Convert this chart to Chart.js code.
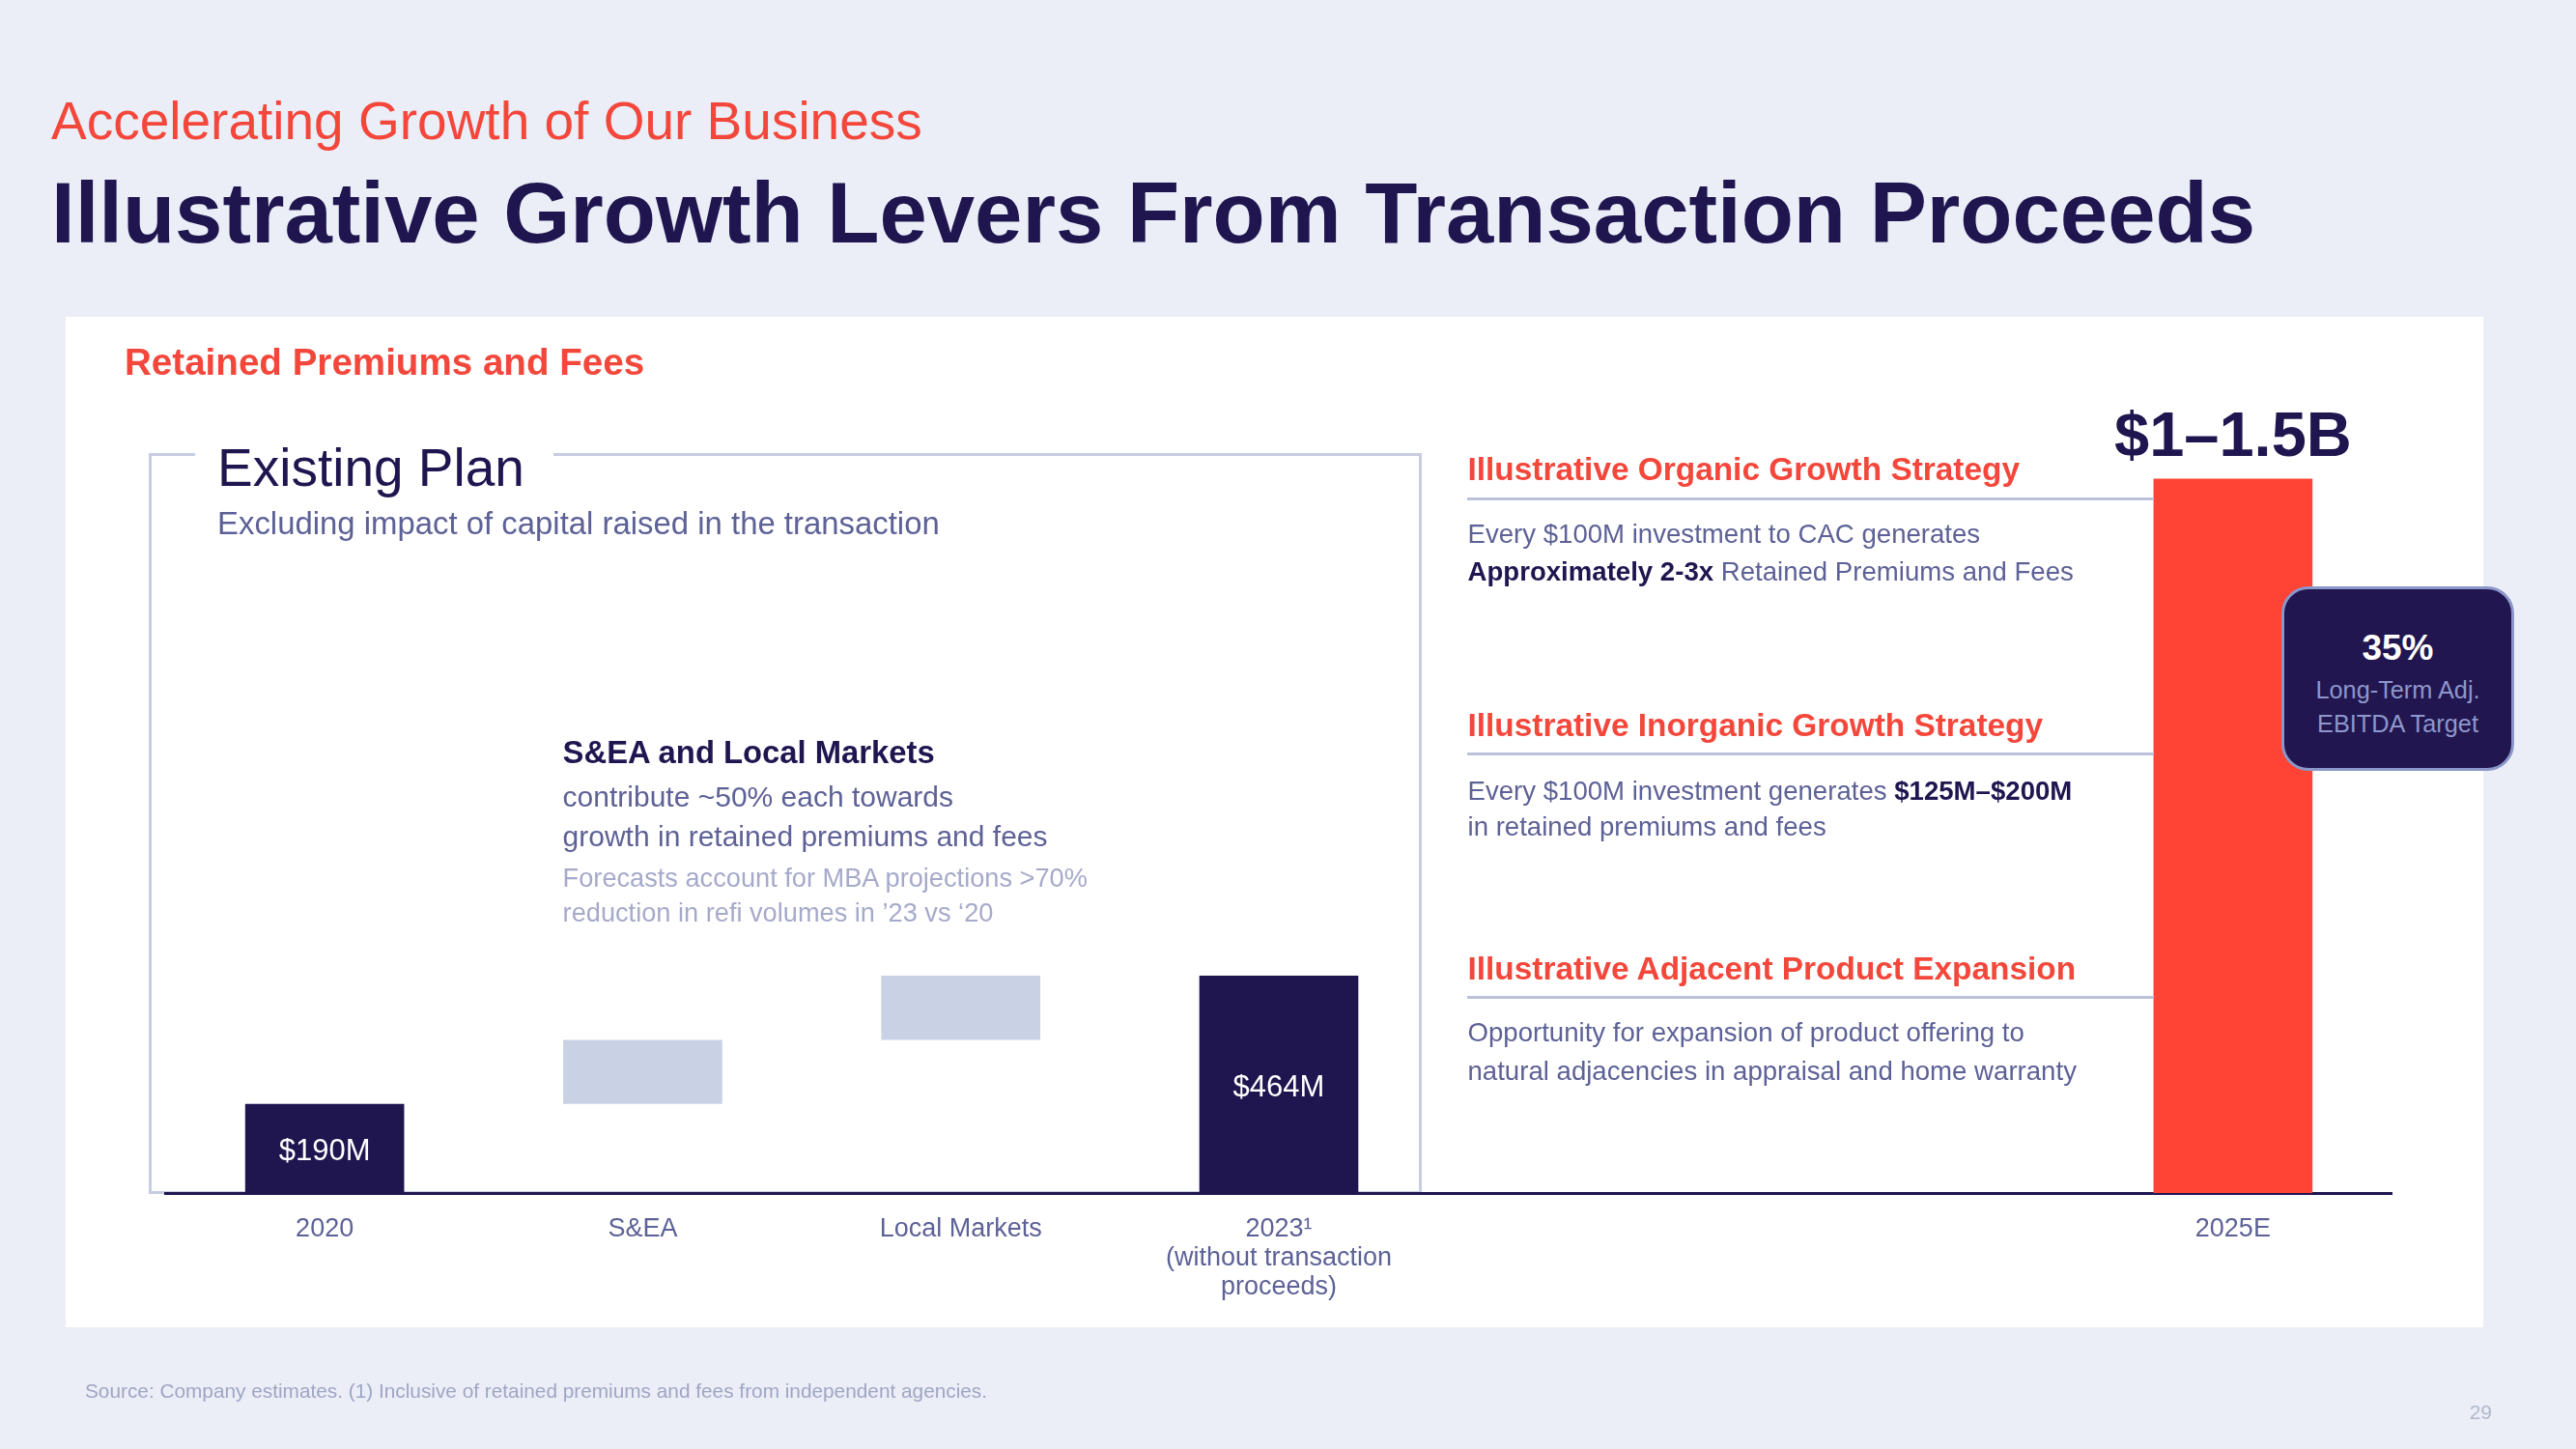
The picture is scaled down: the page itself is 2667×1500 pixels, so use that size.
<!DOCTYPE html>
<html>
<head>
<meta charset="utf-8">
<script src="https://cdn.jsdelivr.net/npm/chart.js@4.4.0/dist/chart.umd.min.js"></script>
<style>
  html, body { margin: 0; padding: 0; }
  body {
    width: 2667px; height: 1500px; position: relative; overflow: hidden;
    background: #EBEEF7;
    font-family: "Liberation Sans", Arial, sans-serif;
  }
  .panel { position: absolute; left: 68px; top: 328px; width: 2503px; height: 1046px; background: #fff; }
  .plan { position: absolute; left: 154px; top: 469px; width: 1318px; height: 767px;
          border: 3px solid #C7CCE1; box-sizing: border-box; }
  #wrap { position: absolute; left: 0; top: 0; width: 2667px; height: 1500px; z-index: 2; }
  .t { position: absolute; white-space: nowrap; line-height: 1; z-index: 3; }
  .t b { color: #1F1650; }
  .rule { position: absolute; left: 1519px; width: 711px; height: 3px; background: #BCC1DA; z-index: 3; }
  .badge { position: absolute; left: 2362px; top: 607px; width: 241px; height: 191px; z-index: 3;
           box-sizing: border-box; background: #21164F; border: 3px solid #8B96C9; border-radius: 28px; }
</style>
</head>
<body>
<div class="panel"></div>
<div class="plan"></div>
<div class="rule" style="top:515px"></div>
<div class="rule" style="top:779px"></div>
<div class="rule" style="top:1031px"></div>
<div class="badge"></div>
<div id="wrap"><canvas id="growthChart"></canvas></div>

<script>
// chart data
const categories = ["2020", "S&EA", "Local Markets", ["2023\u00b9", "(without transaction", "proceeds)"], "", "", "2025E"];
// S&EA and Local Markets are floating steps from $190M up to $464M
const retained = [190, [190, 327], [327, 464], 464, null, null, 1525];
const barLabels = ["$190M", "", "", "$464M", "", "", "$1\u20131.5B"];

const NAVY = "#1F1650";
const RED = "#F4473B";
const MUTED = "#5D6196";
const LIGHT = "#A6AACA";
const barColors = [NAVY, "#C9D2E5", "#C9D2E5", NAVY, NAVY, NAVY, "#FF4436"];

// text helper, y is the baseline
function put(html, x, base, size, css, align) {
  const d = document.createElement("div");
  d.className = "t";
  d.innerHTML = html;
  d.style.fontSize = size + "px";
  d.style.top = (base + 2 - 0.8465 * size) + "px";
  if (align === "center") {
    d.style.left = x + "px";
    d.style.transform = "translateX(-50%)";
  } else if (align === "right") {
    d.style.right = (2667 - x) + "px";
  } else {
    d.style.left = x + "px";
  }
  Object.assign(d.style, css || {});
  document.body.appendChild(d);
}

put("Accelerating Growth of Our Business", 53, 143, 55, { color: RED });
put("Illustrative Growth Levers From Transaction Proceeds", 53, 250, 88.7, { color: NAVY, fontWeight: 700 });
put("Retained Premiums and Fees", 129, 386.7, 38.6, { color: RED, fontWeight: 700 });

put("Existing Plan", 202, 502, 55, { color: NAVY, background: "#fff", padding: "0 30px 0 23px" });
put("Excluding impact of capital raised in the transaction", 225, 552, 32.9, { color: MUTED });
put("S&amp;EA and Local Markets", 582.6, 789, 32.8, { color: NAVY, fontWeight: 700 });
put("contribute ~50% each towards", 582.6, 833, 30, { color: MUTED });
put("growth in retained premiums and fees", 582.6, 874, 30, { color: MUTED });
put("Forecasts account for MBA projections &gt;70%", 582.6, 916.5, 27.2, { color: LIGHT });
put("reduction in refi volumes in \u201923 vs \u201820", 582.6, 952.5, 27.2, { color: LIGHT });

put("Illustrative Organic Growth Strategy", 1519.5, 495.7, 33.4, { color: RED, fontWeight: 700 });
put("Every $100M investment to CAC generates", 1519.5, 560.7, 27.6, { color: MUTED });
put("<b>Approximately 2-3x</b> Retained Premiums and Fees", 1519.5, 599.3, 27.6, { color: MUTED });
put("Illustrative Inorganic Growth Strategy", 1519.5, 760, 33.4, { color: RED, fontWeight: 700 });
put("Every $100M investment generates <b>$125M\u2013$200M</b>", 1519.5, 826, 27.6, { color: MUTED });
put("in retained premiums and fees", 1519.5, 863, 27.6, { color: MUTED });
put("Illustrative Adjacent Product Expansion", 1519.5, 1012.7, 33.4, { color: RED, fontWeight: 700 });
put("Opportunity for expansion of product offering to", 1519.5, 1076.7, 27.6, { color: MUTED });
put("natural adjacencies in appraisal and home warranty", 1519.5, 1116, 27.6, { color: MUTED });

put("35%", 2482.5, 681.7, 37, { color: "#fff", fontWeight: 700 }, "center");
put("Long-Term Adj.", 2482.5, 721.7, 25.3, { color: "#8E96CC" }, "center");
put("EBITDA Target", 2482.5, 756.7, 25.3, { color: "#8E96CC" }, "center");

put("Source: Company estimates. (1) Inclusive of retained premiums and fees from independent agencies.", 88, 1446, 20.8, { color: "#A0A5C3" });
put("29", 2580, 1467, 21, { color: "#B3B8CE" }, "right");

// value labels: inside the dark bars, above the last one
const barText = {
  id: "barText",
  afterDatasetsDraw(chart) {
    const ctx = chart.ctx;
    const bars = chart.getDatasetMeta(0).data;
    bars.forEach((bar, i) => {
      const txt = barLabels[i];
      if (!txt) return;
      ctx.save();
      ctx.textAlign = "center";
      ctx.textBaseline = "alphabetic";
      if (i === bars.length - 1) {
        ctx.font = 'bold 65px "Liberation Sans", Arial, sans-serif';
        ctx.fillStyle = NAVY;
        ctx.fillText(txt, bar.x, bar.y - 23);
      } else {
        ctx.font = '31px "Liberation Sans", Arial, sans-serif';
        ctx.fillStyle = "#fff";
        ctx.fillText(txt, bar.x, (bar.y + bar.base) / 2 + 12.5);
      }
      ctx.restore();
    });
  }
};

Chart.defaults.font.family = '"Liberation Sans", Arial, sans-serif';

new Chart(document.getElementById("growthChart").getContext("2d"), {
  type: "bar",
  data: {
    labels: categories,
    datasets: [{
      data: retained,
      backgroundColor: barColors,
      borderWidth: 0,
      barPercentage: 0.5,
      categoryPercentage: 1
    }]
  },
  options: {
    responsive: true,
    maintainAspectRatio: false,
    animation: false,
    layout: { padding: { left: 171.5, right: 190.5, top: 459, bottom: 0 } },
    plugins: { legend: { display: false }, tooltip: { enabled: false } },
    scales: {
      x: {
        grid: { display: false, drawTicks: false },
        border: { display: true, color: NAVY, width: 3 },
        ticks: {
          color: MUTED,
          font: { size: 27, lineHeight: 1.12 },
          padding: 22,
          maxRotation: 0,
          autoSkip: false
        },
        afterFit(scale) { scale.height = 265; } // keeps the axis line at y=1235
      },
      y: { display: false, min: 0, max: 1600 }
    }
  },
  plugins: [barText]
});
</script>
</body>
</html>
